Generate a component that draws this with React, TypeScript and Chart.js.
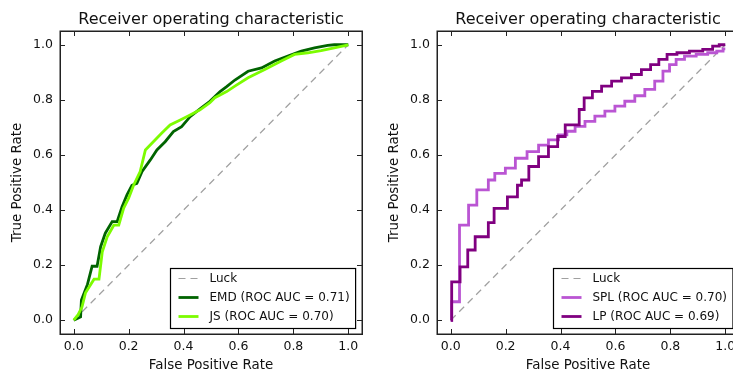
import React, { useEffect, useRef } from "react";
import { Chart, registerables } from "chart.js";
Chart.register(...registerables);

// ---- data ----
const tickValues = [0, 0.2, 0.4, 0.6, 0.8, 1.0];
const titleText = "Receiver operating characteristic";
const xTitle = "False Positive Rate";
const yTitle = "True Positive Rate";

const luckFpr = [0, 1];
const luckTpr = [0, 1];

const emdLabel = "EMD (ROC AUC = 0.71)";
const emdFpr = [0, 0.025, 0.028, 0.05, 0.067, 0.085, 0.098, 0.115, 0.14, 0.158, 0.176, 0.194, 0.212, 0.23, 0.249, 0.279, 0.303, 0.333, 0.363, 0.393, 0.424, 0.46, 0.496, 0.533, 0.557, 0.587, 0.635, 0.684, 0.732, 0.78, 0.829, 0.877, 0.925, 0.949, 1.0];
const emdTpr = [0, 0.012, 0.073, 0.13, 0.196, 0.196, 0.267, 0.316, 0.358, 0.358, 0.412, 0.455, 0.49, 0.497, 0.54, 0.582, 0.618, 0.648, 0.685, 0.703, 0.739, 0.767, 0.795, 0.83, 0.848, 0.872, 0.904, 0.916, 0.941, 0.959, 0.977, 0.989, 0.998, 1.0, 1.0];

const jsLabel = "JS (ROC AUC = 0.70)";
const jsFpr = [0, 0.016, 0.03, 0.043, 0.074, 0.092, 0.104, 0.122, 0.146, 0.164, 0.182, 0.2, 0.218, 0.242, 0.261, 0.29, 0.32, 0.351, 0.388, 0.424, 0.46, 0.496, 0.514, 0.557, 0.587, 0.635, 0.696, 0.756, 0.804, 0.853, 0.901, 0.949, 1.0];
const jsTpr = [0, 0.02, 0.048, 0.1, 0.149, 0.149, 0.248, 0.303, 0.345, 0.345, 0.407, 0.443, 0.49, 0.54, 0.618, 0.648, 0.679, 0.709, 0.727, 0.745, 0.764, 0.79, 0.808, 0.83, 0.85, 0.88, 0.91, 0.941, 0.965, 0.971, 0.979, 0.989, 1.0];

const splLabel = "SPL (ROC AUC = 0.70)";
const splFpr = [0, 0.007, 0.027, 0.037, 0.062, 0.068, 0.092, 0.098, 0.134, 0.14, 0.181, 0.217, 0.254, 0.302, 0.338, 0.374, 0.411, 0.435, 0.471, 0.507, 0.543, 0.58, 0.616, 0.652, 0.689, 0.725, 0.761, 0.785, 0.809, 0.833, 0.87, 0.918, 0.954, 0.984, 1.0];
const splTpr = [0, 0.067, 0.067, 0.345, 0.345, 0.418, 0.418, 0.473, 0.473, 0.509, 0.533, 0.552, 0.588, 0.612, 0.636, 0.655, 0.673, 0.686, 0.704, 0.722, 0.741, 0.759, 0.777, 0.795, 0.815, 0.838, 0.868, 0.904, 0.928, 0.947, 0.959, 0.965, 0.971, 0.977, 0.985];

const lpLabel = "LP (ROC AUC = 0.69)";
const lpFpr = [0, 0.007, 0.031, 0.037, 0.056, 0.068, 0.08, 0.098, 0.128, 0.146, 0.17, 0.2, 0.213, 0.237, 0.249, 0.267, 0.302, 0.338, 0.374, 0.405, 0.429, 0.465, 0.471, 0.501, 0.531, 0.568, 0.604, 0.64, 0.676, 0.713, 0.743, 0.773, 0.803, 0.845, 0.894, 0.942, 0.966, 0.99, 1.0];
const lpTpr = [0, 0.139, 0.139, 0.194, 0.194, 0.255, 0.255, 0.303, 0.303, 0.354, 0.406, 0.406, 0.448, 0.448, 0.49, 0.509, 0.558, 0.594, 0.63, 0.667, 0.709, 0.709, 0.765, 0.807, 0.831, 0.85, 0.868, 0.88, 0.892, 0.91, 0.928, 0.947, 0.965, 0.971, 0.977, 0.983, 0.995, 1.0, 1.0];

const FONT = "'DejaVu Sans', sans-serif";
const TEXT = "#111";

type Series = { label: string; fpr: number[]; tpr: number[]; color: string };

const toPts = (xs: number[], ys: number[]) => xs.map((x, i) => ({ x, y: ys[i] }));

const framePlugin = {
  id: "frameTicks",
  afterDraw(chart: any) {
    const { ctx, chartArea, scales } = chart;
    const { left, right, top, bottom } = chartArea;
    ctx.save();
    // title centred over the axes
    ctx.fillStyle = TEXT;
    ctx.font = `16px ${FONT}`;
    ctx.textAlign = "center";
    ctx.textBaseline = "middle";
    ctx.fillText(titleText, (left + right) / 2, 19.4);

    ctx.strokeStyle = "#222";
    ctx.lineWidth = 1;
    ctx.beginPath();
    for (const v of tickValues) {
      const px = Math.round(scales.x.getPixelForValue(v)) + 0.5;
      ctx.moveTo(px, bottom);
      ctx.lineTo(px, bottom - 5);
      ctx.moveTo(px, top);
      ctx.lineTo(px, top + 5);
      const py = Math.round(scales.y.getPixelForValue(v)) + 0.5;
      ctx.moveTo(left, py);
      ctx.lineTo(left + 5, py);
      ctx.moveTo(right, py);
      ctx.lineTo(right - 5, py);
    }
    ctx.stroke();
    ctx.lineWidth = 1.5;
    ctx.strokeRect(Math.round(left) + 0.25, Math.round(top) + 0.25, Math.round(right - left), Math.round(bottom - top));

    // legend (lower right, inside axes)
    const items = chart.data.datasets.map((d: any) => d);
    ctx.font = `12px ${FONT}`;
    let tw = 0;
    for (const d of items) tw = Math.max(tw, ctx.measureText(d.label).width);
    const rowH = 19;
    const boxW = 8 + 20 + 11 + tw + 6;
    const boxH = 10 + rowH * (items.length - 1) + 12;
    const bx = Math.round(right - 7 - boxW) + 0.5;
    const by = Math.round(bottom - 6 - boxH) + 0.5;
    ctx.fillStyle = "#fff";
    ctx.fillRect(bx, by, boxW, boxH);
    ctx.lineWidth = 1.2;
    ctx.strokeStyle = "#000";
    ctx.strokeRect(bx, by, boxW, boxH);
    items.forEach((d: any, i: number) => {
      const cy = by + 10 + i * rowH;
      ctx.beginPath();
      ctx.strokeStyle = d.borderColor;
      ctx.lineWidth = d.borderWidth;
      ctx.setLineDash(d.borderDash || []);
      ctx.moveTo(bx + 8, cy);
      ctx.lineTo(bx + 28, cy);
      ctx.stroke();
      ctx.setLineDash([]);
      ctx.fillStyle = TEXT;
      ctx.textBaseline = "middle";
      ctx.textAlign = "left";
      ctx.fillText(d.label, bx + 39, cy);
    });
    ctx.restore();
  },
};

function RocChart({ a, b, stepped }: { a: Series; b: Series; stepped: any }) {
  const ref = useRef<HTMLCanvasElement>(null);
  useEffect(() => {
    const canvas = ref.current!;
    const mk = (s: Series, order: number) => ({
      label: s.label,
      data: toPts(s.fpr, s.tpr),
      borderColor: s.color,
      backgroundColor: s.color,
      borderWidth: 2.8,
      pointRadius: 0,
      tension: 0,
      stepped,
      fill: false,
      order,
    });
    const axisCommon = (title: string, isX: boolean) => ({
      type: "linear" as const,
      min: -0.05,
      max: 1.05,
      afterBuildTicks: (scale: any) => {
        scale.ticks = tickValues.map((v) => ({ value: v }));
      },
      afterFit: (scale: any) => {
        if (isX) scale.height = 37;
        else scale.width = 60;
      },
      grid: { display: false, drawTicks: false },
      border: { display: false },
      ticks: {
        color: TEXT,
        font: { family: FONT, size: 12.5 },
        padding: isX ? 5 : 7,
        callback: (v: any) => Number(v).toFixed(1),
        maxRotation: 0,
      },
      title: {
        display: true,
        text: title,
        color: TEXT,
        font: { family: FONT, size: 13.4, lineHeight: 0.75 },
        padding: isX ? { top: 0, bottom: 0 } : { top: 12, bottom: 0 },
      },
    });
    const chart = new Chart(canvas, {
      type: "line",
      data: {
        datasets: [
          {
            label: "Luck",
            data: toPts(luckFpr, luckTpr),
            borderColor: "#a0a0a0",
            borderWidth: 1.2,
            borderDash: [7, 5],
            pointRadius: 0,
            fill: false,
            order: 3,
          } as any,
          mk(a, 2),
          mk(b, 1),
        ],
      },
      options: {
        responsive: false,
        animation: false,
        devicePixelRatio: 1,
        layout: { padding: { left: 0, right: 8, top: 31, bottom: 0 } },
        plugins: {
          legend: { display: false },
          tooltip: { enabled: false },
          title: { display: false },
        },
        scales: {
          x: axisCommon(xTitle, true) as any,
          y: axisCommon(yTitle, false) as any,
        },
      },
      plugins: [framePlugin],
    });
    return () => chart.destroy();
  }, [a, b, stepped]);
  return <canvas ref={ref} width={370} height={371} style={{ display: "block" }} />;
}

const left = {
  a: { label: emdLabel, fpr: emdFpr, tpr: emdTpr, color: "#006400" },
  b: { label: jsLabel, fpr: jsFpr, tpr: jsTpr, color: "#7CFC00" },
};
const right = {
  a: { label: splLabel, fpr: splFpr, tpr: splTpr, color: "#BA55D3" },
  b: { label: lpLabel, fpr: lpFpr, tpr: lpTpr, color: "#800080" },
};

export default function App() {
  return (
    <div style={{ position: "fixed", left: 0, top: 0, width: 733, height: 371, overflow: "hidden", background: "#fff" }}>
      <div style={{ position: "absolute", left: 0, top: 0, width: 370, height: 371 }}>
        <RocChart a={left.a} b={left.b} stepped={false} />
      </div>
      <div style={{ position: "absolute", left: 377, top: 0, width: 370, height: 371 }}>
        <RocChart a={right.a} b={right.b} stepped="middle" />
      </div>
    </div>
  );
}
